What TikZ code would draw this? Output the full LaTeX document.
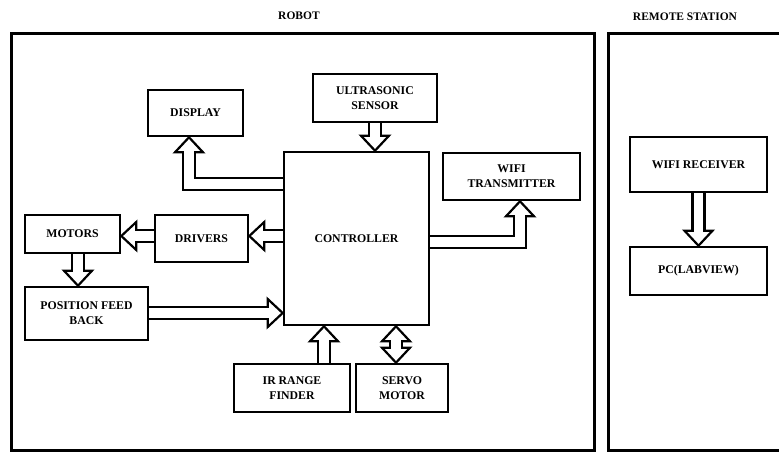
\documentclass[tikz,border=0pt]{standalone}
\usepackage{fontspec}
\setmainfont{Liberation Serif}
\usetikzlibrary{backgrounds}

% hollow double-line arrow: shaft band plus an open triangular head
\newcommand\hollowshaft[1]{%
  \draw[shaftout] #1;
  \draw[shaftin] #1;
}

\begin{document}
\begin{tikzpicture}[x=1pt,y=-1pt,
  blk/.style={draw, line width=2.6pt, align=center, inner sep=0pt,
    font=\fontsize{11.8}{15}\selectfont\bfseries},
  lbl/.style={inner sep=0pt, font=\fontsize{11.5}{15}\selectfont\bfseries},
  frame/.style={draw, line width=3pt, line join=miter},
  shaftout/.style={line width=14.4pt, line join=miter, shorten >=15pt},
  shaftin/.style={white, line width=9.8pt, line join=miter, shorten >=15pt},
  shaftboth/.style={shorten <=15pt},
  hd/.style={fill=white, line width=2.2pt, line join=miter},
  headU/.pic={\filldraw[hd] (0,0) -- (14,15) -- (-14,15) -- cycle;
              \fill[white] (-4.9,13.5) rectangle (4.9,16.5);},
  headD/.pic={\filldraw[hd] (0,0) -- (14,-15) -- (-14,-15) -- cycle;
              \fill[white] (-4.9,-16.5) rectangle (4.9,-13.5);},
  headL/.pic={\filldraw[hd] (0,0) -- (15,14) -- (15,-14) -- cycle;
              \fill[white] (13.5,-4.9) rectangle (16.5,4.9);},
  headR/.pic={\filldraw[hd] (0,0) -- (-15,14) -- (-15,-14) -- cycle;
              \fill[white] (-16.5,-4.9) rectangle (-13.5,4.9);},
]
\useasboundingbox (0,0) rectangle (779,452);

% section titles
\node[lbl] (robotlbl) at (299,16) {ROBOT};
\node[lbl] (remotelbl) at (685,17) {REMOTE STATION};

% enclosing frames
\draw[frame] (11,34) rectangle (594,450);
\begin{scope}
  \clip (0,0) rectangle (779,452);
  \draw[frame] (790,34) -- (608,34) -- (608,450) -- (790,450);
\end{scope}

% robot blocks
\node[blk, minimum width=95pt,  minimum height=46pt]  (disp)   at (195.5,113)   {DISPLAY};
\node[blk, minimum width=124pt, minimum height=48pt]  (ultra)  at (375,98)      {ULTRASONIC\\SENSOR};
\node[blk, minimum width=145pt, minimum height=173pt] (ctrl)   at (356.5,238.5) {CONTROLLER};
\node[blk, minimum width=137pt, minimum height=47pt]  (wifi)   at (511.5,176.5) {WIFI\\TRANSMITTER};
\node[blk, minimum width=95pt,  minimum height=38pt]  (mot)    at (72.5,234)    {MOTORS};
\node[blk, minimum width=93pt,  minimum height=47pt]  (drv)    at (201.5,238.5) {DRIVERS};
\node[blk, minimum width=123pt, minimum height=53pt]  (posfb)  at (86.5,313.5)  {POSITION FEED\\BACK};
\node[blk, minimum width=116pt, minimum height=48pt]  (ir)     at (292,388)     {IR RANGE\\FINDER};
\node[blk, minimum width=92pt,  minimum height=48pt]  (servo)  at (402,388)     {SERVO\\MOTOR};

% remote station blocks
\node[blk, minimum width=137pt, minimum height=55pt]  (wrx)    at (698.5,164.5) {WIFI RECEIVER};
\node[blk, minimum width=137pt, minimum height=48pt]  (pc)     at (698.5,271)   {PC(LABVIEW)};

% connectors, kept below the block outlines
\begin{pgfonlayer}{background}
  % ultrasonic sensor -> controller
  \hollowshaft{(ultra.south) -- (ultra.south |- ctrl.north)}
  \pic at (ultra.south |- ctrl.north) {headD};

  % controller -> display
  \hollowshaft{(ctrl.west |- 0,184) -| (disp.south -| 189,0)}
  \pic at (disp.south -| 189,0) {headU};

  % controller -> wifi transmitter
  \hollowshaft{(ctrl.east |- 0,242) -| (wifi.south -| 520,0)}
  \pic at (wifi.south -| 520,0) {headU};

  % controller -> drivers
  \hollowshaft{(ctrl.west |- 0,236) -- (drv.east |- 0,236)}
  \pic at (drv.east |- 0,236) {headL};

  % drivers -> motors
  \hollowshaft{(drv.west |- 0,236) -- (mot.east |- 0,236)}
  \pic at (mot.east |- 0,236) {headL};

  % motors -> position feedback
  \hollowshaft{(mot.south -| 78,0) -- (posfb.north -| 78,0)}
  \pic at (posfb.north -| 78,0) {headD};

  % position feedback -> controller
  \hollowshaft{(posfb.east |- 0,313) -- (ctrl.west |- 0,313)}
  \pic at (ctrl.west |- 0,313) {headR};

  % IR range finder -> controller
  \hollowshaft{(ir.north -| 324,0) -- (ctrl.south -| 324,0)}
  \pic at (ctrl.south -| 324,0) {headU};

  % servo motor <-> controller
  \draw[shaftout, shaftboth] (servo.north -| 396,0) -- (ctrl.south -| 396,0);
  \draw[shaftin, shaftboth] (servo.north -| 396,0) -- (ctrl.south -| 396,0);
  \pic at (ctrl.south -| 396,0) {headU};
  \pic at (servo.north -| 396,0) {headD};

  % wifi receiver -> PC
  \hollowshaft{(wrx.south) -- (pc.north)}
  \pic at (pc.north) {headD};
\end{pgfonlayer}
\end{tikzpicture}
\end{document}
